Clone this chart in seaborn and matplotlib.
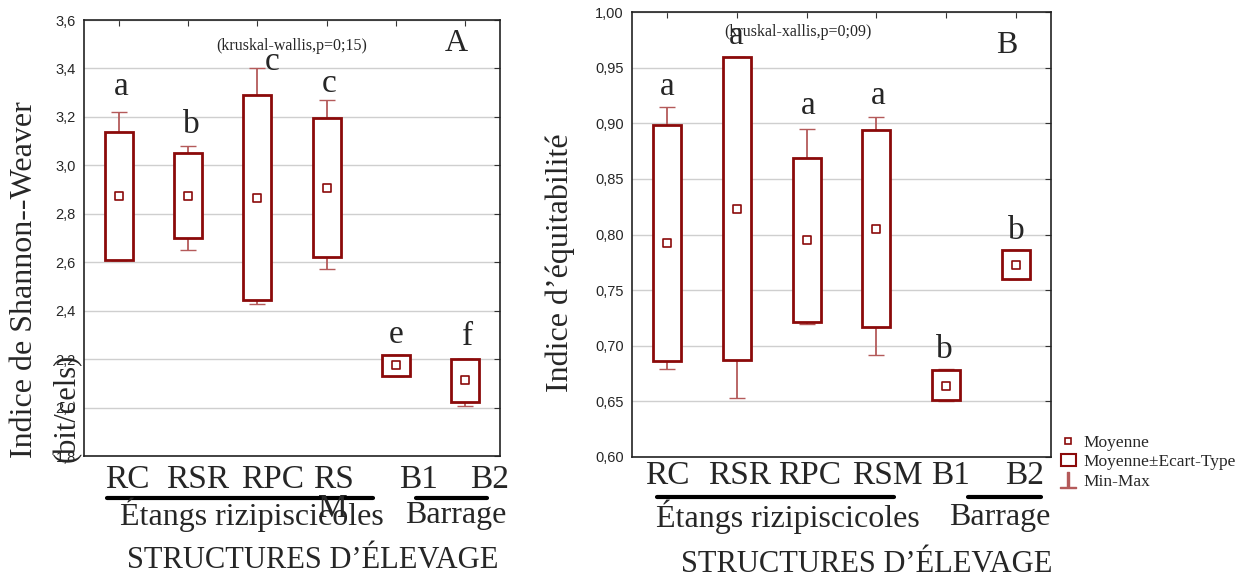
"""
plot.py - Shannon-Weaver / equitability index by rearing structure
"""

import matplotlib
matplotlib.use("Agg")
import matplotlib.pyplot as plt
import seaborn as sns
import pandas as pd
from matplotlib.ticker import FuncFormatter, MultipleLocator
from matplotlib.lines import Line2D
from matplotlib.patches import Patch

# ── Data : panel A (Shannon-Weaver) ───────────────────────────────────────────
cats_a    = ["RC", "RSR", "RPC", "RS", "B1", "B2"]
mean_a    = [2.874, 2.874, 2.866, 2.908, 2.174, 2.113]
sd_lo_a   = [2.608, 2.700, 2.442, 2.623, 2.130, 2.023]
sd_hi_a   = [3.139, 3.049, 3.292, 3.197, 2.218, 2.201]
min_a     = [2.608, 2.652, 2.428, 2.572, 2.130, 2.006]
max_a     = [3.222, 3.079, 3.402, 3.269, 2.218, 2.201]
letters_a = ["a", "b", "c", "c", "e", "f"]
let_y_a   = [3.291, 3.133, 3.394, 3.304, 2.265, 2.258]
let_dx_a  = [0.04, 0.05, 0.22, 0.03, 0.0, 0.03]

# ── Data : panel B (equitability) ─────────────────────────────────────────────
cats_b    = ["RC", "RSR", "RPC", "RSM", "B1", "B2"]
mean_b    = [0.792, 0.823, 0.795, 0.805, 0.664, 0.773]
sd_lo_b   = [0.686, 0.687, 0.721, 0.717, 0.651, 0.760]
sd_hi_b   = [0.898, 0.960, 0.869, 0.894, 0.678, 0.786]
min_b     = [0.679, 0.653, 0.720, 0.692, 0.650, 0.760]
max_b     = [0.915, 0.960, 0.895, 0.906, 0.679, 0.786]
letters_b = ["a", "a", "a", "a", "b", "b"]
let_y_b   = [0.925, 0.971, 0.908, 0.917, 0.689, 0.796]
let_dx_b  = [0.0, 0.0, 0.03, 0.02, -0.03, 0.0]

# ── Style ─────────────────────────────────────────────────────────────────────
sns.set_style("white")
plt.rcParams["font.family"] = ["Liberation Serif", "DejaVu Serif"]
DARK  = "#8b0a0a"
LIGHT = "#b45a5a"
GRID  = "#cfcfcf"
W, H  = 1240, 581


def px(x, y):
    return x / W, 1 - y / H


def draw_panel(ax, cats, mean, lo, hi, mn, mx, letters, let_y, let_dx, dec):
    df = pd.DataFrame({"cat": cats, "mean": mean, "lo": lo, "hi": hi,
                       "min": mn, "max": mx})
    # whiskers (min-max)
    ax.errorbar(df["cat"], df["hi"], yerr=[[0] * len(df), df["max"] - df["hi"]],
                fmt="none", ecolor=LIGHT, elinewidth=1.3, capsize=6, zorder=2)
    ax.errorbar(df["cat"], df["lo"], yerr=[df["lo"] - df["min"], [0] * len(df)],
                fmt="none", ecolor=LIGHT, elinewidth=1.3, capsize=6, zorder=2)
    # mean ± sd boxes
    ax.bar(df["cat"], df["hi"] - df["lo"], bottom=df["lo"], width=0.4,
           facecolor="white", edgecolor=DARK, linewidth=2, zorder=3)
    # means
    sns.scatterplot(data=df, x="cat", y="mean", marker="s", s=26,
                    facecolor="white", edgecolor=DARK, linewidth=1.2,
                    zorder=4, ax=ax)
    for i, (t, y, dx) in enumerate(zip(letters, let_y, let_dx)):
        ax.text(i + dx, y, t, ha="center", va="baseline", fontsize=24,
                zorder=5)

    ax.set_xlim(-0.5, 5.5)
    ax.set_xlabel("")
    ax.set_ylabel("")
    ax.set_xticks(range(len(cats)))
    ax.set_xticklabels([])
    ax.yaxis.set_major_formatter(
        FuncFormatter(lambda v, _: f"{v:.{dec}f}".replace(".", ",")))
    ax.tick_params(axis="y", labelsize=10.5, direction="in", right=True,
                   length=4, color="#333333", pad=6)
    ax.tick_params(axis="x", direction="in", top=True, length=4,
                   color="#333333")
    ax.grid(axis="y", color=GRID, linewidth=1)
    ax.set_axisbelow(True)
    for s in ax.spines.values():
        s.set_color("#222222")
        s.set_linewidth(1.2)


fig = plt.figure(figsize=(12.4, 5.81), dpi=100)

# ── Panel A ──
axA = fig.add_axes([84 / W, 1 - 456 / H, 416 / W, 436 / H])
axA.set_ylim(1.8, 3.6)
axA.yaxis.set_major_locator(MultipleLocator(0.2))
draw_panel(axA, cats_a, mean_a, sd_lo_a, sd_hi_a, min_a, max_a,
           letters_a, let_y_a, let_dx_a, 1)
for lab in axA.get_yticklabels():
    lab.set_family("Liberation Sans")
axA.text(0.5, 0.94, "(kruskal-wallis,p=0;15)", transform=axA.transAxes,
         ha="center", va="center", fontsize=11.5)
axA.text(0.895, 0.945, "A", transform=axA.transAxes, ha="center",
         va="center", fontsize=23)

# ── Panel B ──
axB = fig.add_axes([632 / W, 1 - 457 / H, 419 / W, 445 / H])
axB.set_ylim(0.60, 1.00)
axB.yaxis.set_major_locator(MultipleLocator(0.05))
draw_panel(axB, cats_b, mean_b, sd_lo_b, sd_hi_b, min_b, max_b,
           letters_b, let_y_b, let_dx_b, 2)
for lab in axB.get_yticklabels():
    lab.set_family("Liberation Sans")
axB.text(0.397, 0.955, "(kruskal-xallis,p=0;09)", transform=axB.transAxes,
         ha="center", va="center", fontsize=11.5)
axB.text(0.895, 0.925, "B", transform=axB.transAxes, ha="center",
         va="center", fontsize=23)

# ── Y labels ──
fig.text(*px(25, 458), "Indice de Shannon--Weaver", rotation=90,
         ha="center", va="bottom", fontsize=23)
fig.text(*px(67, 462), "(bit/cels)", rotation=90, ha="center",
         va="bottom", fontsize=22)
fig.text(*px(560, 263), "Indice d\u2019\u00e9quitabilit\u00e9", rotation=90,
         ha="center", va="center", fontsize=23)

# ── Category labels + grouping ──
labA = [("RC", 127), ("RSR", 198), ("RPC", 273), ("RS\nM", 333),
        ("B1", 418), ("B2", 490)]
for t, x in labA:
    fig.text(*px(x, 464), t, ha="center", va="top", fontsize=24,
             linespacing=0.95)
labB = [("RC", 667), ("RSR", 740), ("RPC", 810), ("RSM", 887),
        ("B1", 950), ("B2", 1025)]
for t, x in labB:
    fig.text(*px(x, 461), t, ha="center", va="top", fontsize=24)

for (x0, x1, y) in [(107, 373, 498), (416, 487, 498),
                    (657, 894, 497), (968, 1041, 497)]:
    fig.add_artist(Line2D([x0 / W, x1 / W], [1 - y / H] * 2,
                          color="black", linewidth=3))

fig.text(*px(252, 515), "\u00c9tangs rizipiscicoles", ha="center",
         va="center", fontsize=23)
fig.text(*px(456, 515), "Barrage", ha="center", va="center", fontsize=23)
fig.text(*px(788, 517), "\u00c9tangs rizipiscicoles", ha="center",
         va="center", fontsize=23)
fig.text(*px(1000, 517), "Barrage", ha="center", va="center", fontsize=23)
fig.text(*px(313, 560), "STRUCTURES D\u2019\u00c9LEVAGE", ha="center",
         va="center", fontsize=22)
fig.text(*px(867, 564), "STRUCTURES D\u2019\u00c9LEVAGE", ha="center",
         va="center", fontsize=22)

# ── Legend ──
h_mean = Line2D([], [], marker="s", linestyle="none", markersize=5,
                markerfacecolor="white", markeredgecolor=DARK,
                markeredgewidth=1.2)
h_box = Patch(facecolor="white", edgecolor=DARK, linewidth=1.5)
h_rng = Line2D([], [], marker="$\u22a5$", linestyle="none", markersize=12,
               color=LIGHT)
fig.legend([h_mean, h_box, h_rng],
           ["Moyenne", "Moyenne\u00b1Ecart-Type", "Min-Max"],
           loc="upper left", bbox_to_anchor=px(1052, 426), frameon=False,
           fontsize=12.5, handlelength=0.9, handletextpad=0.4,
           labelspacing=0.2, borderpad=0)

fig.savefig("out.png", dpi=100)
